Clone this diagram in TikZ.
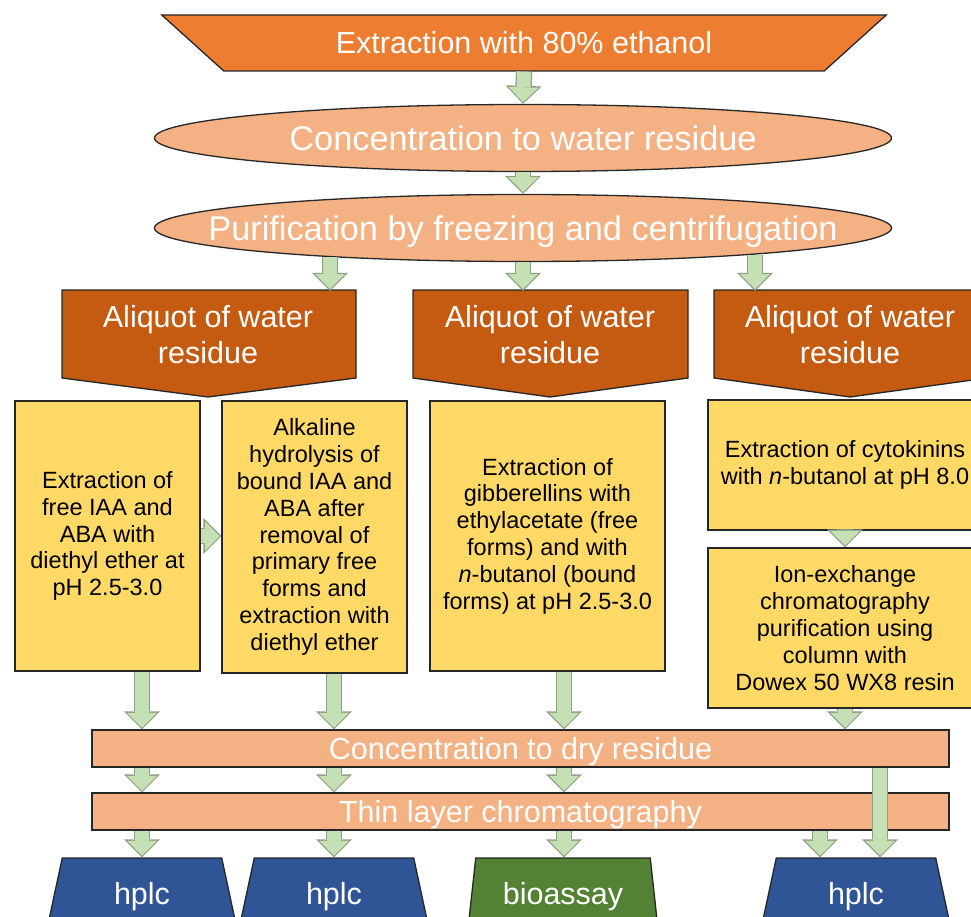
\documentclass[tikz,border=0pt]{standalone}
\usepackage{fontspec}
\setmainfont{Liberation Sans}
\usepackage{tikz}
\usetikzlibrary{shapes.geometric,arrows.meta}
\usepackage{xcolor}
\definecolor{bannerorange}{HTML}{ED7D31}
\definecolor{lightorange}{HTML}{F4B183}
\definecolor{darkorange}{HTML}{C55A11}
\definecolor{boxyellow}{HTML}{FFD966}
\definecolor{hplcblue}{HTML}{2F5597}
\definecolor{assaygreen}{HTML}{548235}
\definecolor{arrowfill}{HTML}{C5E0B4}
\definecolor{arrowline}{HTML}{8C9F82}
\definecolor{edge}{HTML}{262626}
\tikzset{
    edgeline/.style={draw=edge, line width=1.3pt},
    bigtext/.style={text=white, font=\fontsize{34.3}{40}\selectfont, text height=25pt, text depth=0pt},
    midtext/.style={text=white, font=\fontsize{30.5}{36}\selectfont, align=center},
    onerow/.style={text height=22pt, text depth=0pt},
    smalltext/.style={text=black, font=\fontsize{23.5}{26.8}\selectfont, align=center},
    banner/.style={
        trapezium,
        trapezium stretches=true,
        shape border rotate=180,
        trapezium angle=29.5,
        minimum width=726pt,
        minimum height=56pt,
        inner sep=0pt,
        edgeline,
        fill=bannerorange,
        midtext, onerow
    },
    ovalbox/.style={
        ellipse,
        minimum width=737pt,
        minimum height=67pt,
        inner sep=0pt,
        edgeline,
        fill=lightorange
    },
    flatbar/.style={
        rectangle,
        minimum width=857pt,
        minimum height=37pt,
        inner sep=0pt,
        edgeline,
        fill=lightorange,
        midtext, onerow
    },
    ybox/.style={rectangle, inner sep=0pt, edgeline, fill=boxyellow, smalltext},
    endstep/.style={
        trapezium,
        trapezium stretches=true,
        trapezium angle=76.5,
        minimum width=190pt,
        minimum height=70pt,
        inner sep=0pt,
        edgeline,
        midtext, onerow
    },
    blockarrow/.style={
        draw=arrowfill,
        line width=14pt,
        shorten >=1.6pt,
        -{Triangle[length=15pt,width=30pt,line width=0pt]},
        preaction={draw=arrowline, line width=16.4pt, shorten >=0pt,
            -{Triangle[length=18pt,width=36pt,line width=0pt]}}
    }
}
\newcommand{\ovalstep}[4] {
    \node[ovalbox] (#1) at (#2, #3) {};
    \node[bigtext] (#1-text) at (#2, #3) {#4};
}
\newcommand{\aliquot}[4] {
    \filldraw[edgeline, fill=darkorange] (#2, 290) -- (#4, 290) -- (#4, 378)
        -- (#3, 397) -- (#2, 378) -- cycle;
    \node[midtext, minimum height=88pt, inner sep=0pt] (#1) at (#3, 335) {Aliquot of water\\residue};
}

\begin{document}
\begin{tikzpicture}[x=1pt,y=-1pt]
        \useasboundingbox (0,0) rectangle (971,917);
        \clip (0,0) rectangle (971,917);
        % extraction and clean-up
        \node[banner] (extr) at (524, 43) {Extraction with 80\% ethanol};
        \ovalstep{water}{523}{138}{Concentration to water residue}
        \ovalstep{purif}{523}{228}{Purification by freezing and centrifugation}
        % aliquots
        \aliquot{aliA}{62}{208}{356}
        \aliquot{aliB}{413}{550}{688}
        \aliquot{aliC}{714}{850}{987}
        % hormone groups
        \node[ybox, minimum width=185pt, minimum height=270pt] (freeiaa) at (107.5, 536)
            {Extraction of\\free IAA and\\ABA with\\diethyl ether at\\pH 2.5-3.0};
        \node[ybox, minimum width=185pt, minimum height=272pt] (boundiaa) at (314.5, 537)
            {Alkaline\\hydrolysis of\\bound IAA and\\ABA after\\removal of\\primary free\\forms and\\extraction with\\diethyl ether};
        \node[ybox, minimum width=235pt, minimum height=270pt] (gibb) at (547.5, 536)
            {Extraction of\\gibberellins with\\ethylacetate (free\\forms) and with\\\textit{n}-butanol (bound\\forms) at pH 2.5-3.0};
        \node[ybox, minimum width=274pt, minimum height=130pt] (cyto) at (845, 465)
            {Extraction of cytokinins\\with \textit{n}-butanol at pH 8.0};
        \node[ybox, minimum width=274pt, minimum height=160pt] (ionex) at (845, 628)
            {Ion-exchange\\chromatography\\purification using\\column with\\Dowex 50 WX8 resin};
        % common steps
        \node[flatbar] (dry) at (520.5, 748.5) {Concentration to dry residue};
        \node[flatbar] (tlc) at (520.5, 811.5) {Thin layer chromatography};
        % detection
        \node[endstep, fill=hplcblue] (hplcA) at (142, 893) {hplc};
        \node[endstep, fill=hplcblue] (hplcB) at (334, 893) {hplc};
        \node[endstep, fill=assaygreen] (assay) at (563, 893) {bioassay};
        \node[endstep, fill=hplcblue] (hplcC) at (856, 893) {hplc};
        % lanes
        \coordinate (splitA) at (330, 257);
        \coordinate (splitC) at (755, 255);
        \coordinate (laneA) at (142, 0);
        \coordinate (laneB) at (334, 0);
        \coordinate (laneC) at (564, 0);
        \coordinate (laneD) at (820, 0);
        \coordinate (laneE) at (880, 0);
        % arrows
        \draw[blockarrow] (extr.south) -- (water.north);
        \draw[blockarrow] (water.south) -- (purif.north);
        \draw[blockarrow] (splitA) -- (splitA |- aliA.north);
        \draw[blockarrow] (purif.south) -- (purif.south |- aliB.north);
        \draw[blockarrow] (splitC) -- (splitC |- aliC.north);
        \draw[blockarrow] (freeiaa.east) -- (freeiaa.east -| boundiaa.west);
        \draw[blockarrow] (cyto.south) -- (ionex.north);
        \draw[blockarrow] (freeiaa.south -| laneA) -- (dry.north -| laneA);
        \draw[blockarrow] (boundiaa.south -| laneB) -- (dry.north -| laneB);
        \draw[blockarrow] (gibb.south -| laneC) -- (dry.north -| laneC);
        \draw[blockarrow] (ionex.south) -- (ionex.south |- dry.north);
        \draw[blockarrow] (dry.south -| laneA) -- (tlc.north -| laneA);
        \draw[blockarrow] (dry.south -| laneB) -- (tlc.north -| laneB);
        \draw[blockarrow] (dry.south -| laneC) -- (tlc.north -| laneC);
        \draw[blockarrow] (tlc.south -| laneA) -- (hplcA.north -| laneA);
        \draw[blockarrow] (tlc.south -| laneB) -- (hplcB.north -| laneB);
        \draw[blockarrow] (tlc.south -| laneC) -- (assay.north -| laneC);
        \draw[blockarrow] (tlc.south -| laneD) -- (hplcC.north -| laneD);
        \draw[blockarrow] (dry.south -| laneE) -- (hplcC.north -| laneE);
\end{tikzpicture}
\end{document}
